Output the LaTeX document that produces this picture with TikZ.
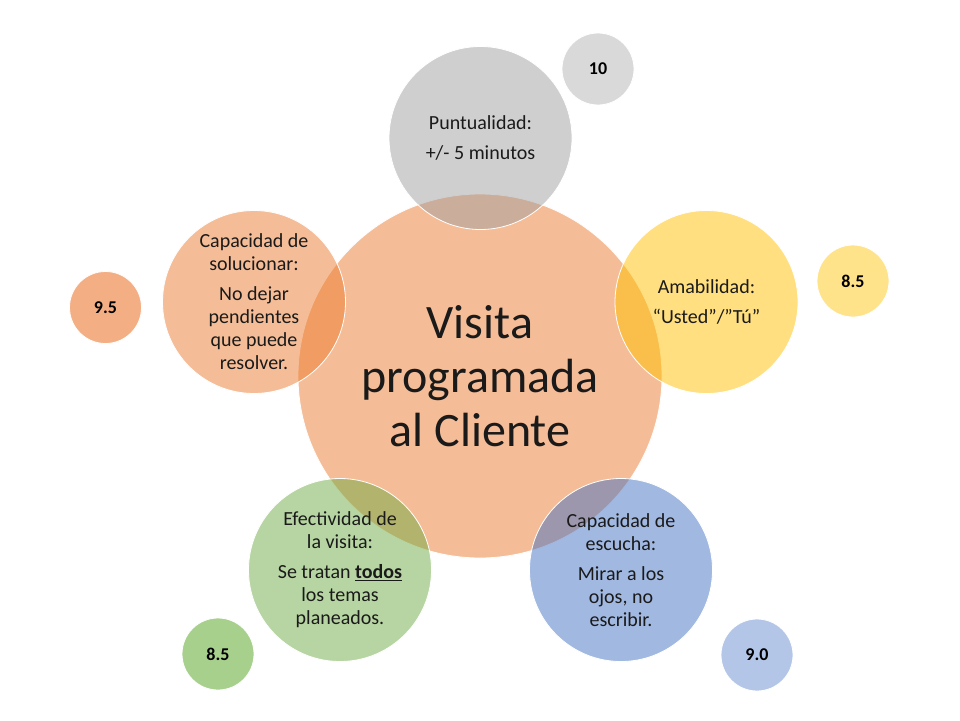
\documentclass[tikz,border=0pt]{standalone}
\usepackage{fontspec}
\setmainfont{Carlito}
\definecolor{corange}{HTML}{ED7D31}
\definecolor{cgray}{HTML}{A0A0A0}
\definecolor{cyellow}{HTML}{FFC000}
\definecolor{cblue}{HTML}{4472C4}
\definecolor{cgreen}{HTML}{70AD47}
\definecolor{sgray}{HTML}{D9D9D9}
\definecolor{syellow}{HTML}{FFE38A}
\definecolor{sblue}{HTML}{B4C6E7}
\definecolor{sgreen}{HTML}{A8D08D}
\definecolor{sorange}{HTML}{F4AE84}
\definecolor{txt}{HTML}{1A1A1A}
\begin{document}
\begin{tikzpicture}[x=1pt,y=-1pt,
  bub/.style={circle,inner sep=0pt,minimum size=183pt,draw=white,line width=0.8pt,
    fill opacity=0.5,text opacity=1,align=center,text=txt,
    font=\fontsize{20}{23}\selectfont},
  num/.style={circle,inner sep=0pt,minimum size=72pt,draw=white,line width=0.8pt,
    text=black,font=\fontsize{18}{22}\selectfont\bfseries}]
\useasboundingbox (0,0) rectangle (960,720);
\fill[white] (0,0) rectangle (960,720);
% central circle
\node[bub,minimum size=364pt,fill=corange,font=\fontsize{48}{54}\selectfont] (center) at (480,376)
  {Visita\\programada\\al Cliente};
% outer circles
\node[bub,fill=cgray] (punt) at (480.5,138)
  {Puntualidad:\\[7pt]+/- 5 minutos};
\node[bub,fill=cyellow] (amab) at (706.5,302)
  {Amabilidad:\\[7pt]“Usted”/”Tú”};
\node[bub,fill=cblue] (escu) at (621,570)
  {Capacidad de\\escucha:\\[7pt]Mirar a los\\ojos, no\\escribir.};
\node[bub,fill=cgreen] (efec) at (340,570)
  {Efectividad de\\la visita:\\[7pt]Se tratan \underline{\textbf{todos}}\\los temas\\planeados.};
\node[bub,fill=corange] (solu) at (254,302)
  {Capacidad de\\solucionar:\\[7pt]No dejar\\pendientes\\que puede\\resolver.};
% score circles
\node[num,fill=sgray] (n1) at (598,69) {10};
\node[num,fill=syellow] (n2) at (853,281) {8.5};
\node[num,fill=sblue] (n3) at (757,655) {9.0};
\node[num,fill=sgreen] (n4) at (218,654) {8.5};
\node[num,fill=sorange] (n5) at (105.5,307.5) {9.5};
\end{tikzpicture}
\end{document}
